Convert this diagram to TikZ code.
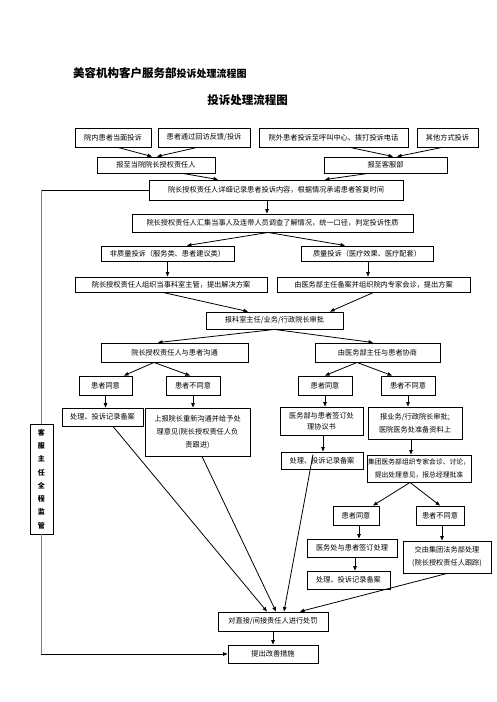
\documentclass[tikz,border=0pt]{standalone}
\usepackage{fontspec}
\setmainfont{Noto Sans CJK SC}
\usetikzlibrary{positioning, arrows.meta}

\begin{document}
\begin{tikzpicture}[x=1pt, y=-1pt,
    box/.style={rectangle, draw, line width=0.9pt, inner sep=1pt,
      align=center, font=\fontsize{7.2}{9}\selectfont},
    tip/.style={-{Triangle[length=4.5pt,width=3.5pt]}, line width=0.8pt},
    trunk/.style={draw=gray, line width=1.6pt}]

    \useasboundingbox (0,0) rectangle (496,702);

    % titles
    \node[anchor=west, inner sep=0pt] (t1) at (73,73)
      {\bfseries\fontsize{11.5}{12}\selectfont 美容机构客户服务部\fontsize{10}{12}\selectfont 投诉处理流程图};
    \node[inner sep=0pt] (t2) at (247.5,100)
      {\bfseries\fontsize{11.5}{12}\selectfont 投诉处理流程图};

    % sources
    \node[box, minimum width=76, minimum height=19] (a) at (113,137.5) {院内患者当面投诉};
    \node[box, minimum width=92, minimum height=19] (b) at (204,137.5) {患者通过回访反馈/投诉};
    \node[box, minimum width=149, minimum height=19] (c) at (333.5,137.5) {院外患者投诉至呼叫中心、拨打投诉电话};
    \node[box, minimum width=61, minimum height=19] (d) at (447.5,137.5) {其他方式投诉};

    \node[box, minimum width=118, minimum height=16] (e) at (156,165) {报至当院院长授权责任人};
    \node[box, minimum width=123, minimum height=16] (f) at (385.5,165) {报至客服部};

    \draw[tip] ([xshift=5]a.south) -- ([xshift=-4]e.north);
    \draw[tip] ([xshift=-7]b.south) -- ([xshift=1]e.north);
    \draw[tip] ([xshift=16.5]c.south) -- ([xshift=7.5]f.north);
    \draw[tip] ([xshift=-5.5]d.south) -- ([xshift=11.5]f.north);

    \node[box, minimum width=254, minimum height=20] (g) at (276,190)
      {院长授权责任人详细记录患者投诉内容，根据情况承诺患者答复时间};
    \draw[tip] ([xshift=27]e.south) -- ([xshift=-58]g.north);
    \draw[tip] ([xshift=-17.5]f.south) -- ([xshift=49]g.north);

    \node[box, minimum width=281, minimum height=18] (h) at (272.5,223)
      {院长授权责任人汇集当事人及连带人员调查了解情况，统一口径，判定投诉性质};
    \draw[tip] ([xshift=-9]g.south) -- ([xshift=-9]g.south |- h.north);

    % nature of complaint
    \node[box, minimum width=133, minimum height=15] (i) at (167.5,253.5) {非质量投诉（服务类、患者建议类）};
    \node[box, minimum width=132, minimum height=15] (j) at (367,253.5) {质量投诉（医疗效果、医疗配套）};
    \draw[tip] ([xshift=-4.5]h.south) -- ([xshift=19.5]i.north);
    \draw[tip] ([xshift=-4.5]h.south) -- ([xshift=-22]j.north);

    \node[box, minimum width=192, minimum height=15] (k) at (171,284.5) {院长授权责任人组织当事科室主管，提出解决方案};
    \node[box, minimum width=193, minimum height=15] (l) at (373.5,284.5) {由医务部主任备案并组织院内专家会诊，提出方案};
    \draw[tip] (i.south) -- (i.south |- k.north);
    \draw[tip] ([xshift=1]j.south) -- ([xshift=1]j.south |- l.north);

    \node[box, minimum width=137, minimum height=17] (m) at (274.5,320.5) {报科室主任/业务/行政院长审批};
    \draw[tip] ([xshift=-8]k.south) -- ([xshift=-26.5]m.north);
    \draw[tip] (l.south) -- ([xshift=55.5]m.north);

    \node[box, minimum width=147, minimum height=19] (n) at (174.5,352.5) {院长授权责任人与患者沟通};
    \node[box, minimum width=125, minimum height=19] (o) at (377.5,352.5) {由医务部主任与患者协商};
    \draw[tip] (m.south) -- ([xshift=-16.5]n.north);
    \draw[tip] (m.south) -- ([xshift=-4.5]o.north);

    % patient answers
    \node[box, minimum width=53, minimum height=19] (p) at (105.5,385.5) {患者同意};
    \node[box, minimum width=54, minimum height=19] (q) at (193,385.5) {患者不同意};
    \node[box, minimum width=54, minimum height=19] (r) at (325,385.5) {患者同意};
    \node[box, minimum width=54, minimum height=19] (s) at (408,385.5) {患者不同意};
    \draw[tip] ([xshift=-20.5]n.south) -- ([xshift=18.5]p.north);
    \draw[tip] ([xshift=-20.5]n.south) -- ([xshift=-3]q.north);
    \draw[tip] ([xshift=-20.5]o.south) -- (r.north);
    \draw[tip] ([xshift=-20.5]o.south) -- ([xshift=-16]s.north);

    \node[box, minimum width=81, minimum height=18] (pt) at (102.5,417) {处理、投诉记录备案};
    \node[box, minimum width=105, minimum height=48,
      font=\fontsize{7.2}{13}\selectfont] (qu) at (197.5,432)
      {上报院长重新沟通并给予处\\理意见(院长授权责任人负\\责跟进)};
    \node[box, minimum width=83, minimum height=28,
      font=\fontsize{7.2}{11}\selectfont] (rv) at (321.5,421)
      {医务部与患者签订处\\理协议书};
    \node[box, minimum width=94, minimum height=32,
      font=\fontsize{7.2}{12.5}\selectfont] (sw) at (415,423)
      {报业务/行政院长审批;\\医院医务处准备资料上};
    \draw[tip] (p.south) -- (p.south |- pt.north);
    \draw[tip] (q.south) -- (q.south |- qu.north);
    \draw[tip] (r.south) -- (r.south |- rv.north);
    \draw[tip] (s.south) -- (s.south |- sw.north);

    \node[box, minimum width=82, minimum height=17] (rx) at (322,460.5) {处理、投诉记录备案};
    \node[box, minimum width=102, minimum height=27,
      font=\fontsize{6.8}{13}\selectfont] (sy) at (419,468.5)
      {集团医务部组织专家会诊、讨论，\\提出处理意见，报总经理批准};
    \draw[tip] ([xshift=1.5]rv.south) -- ([xshift=1.5]rv.south |- rx.north);
    \draw[tip] ([xshift=-4]sw.south) -- ([xshift=-4]sw.south |- sy.north);

    % group level
    \node[box, minimum width=46, minimum height=19] (z) at (356,515.5) {患者同意};
    \node[box, minimum width=48, minimum height=19] (zz) at (440,515.5) {患者不同意};
    \draw[tip] ([xshift=-9]sy.south) -- ([xshift=17]z.north);
    \draw[tip] ([xshift=-9]sy.south) -- (zz.north);

    \node[box, minimum width=90, minimum height=18] (bb) at (352,548) {医务处与患者签订处理};
    \node[box, minimum width=88, minimum height=32,
      font=\fontsize{7.2}{13}\selectfont] (cc) at (447,557)
      {交由集团法务部处理\\(院长授权责任人跟踪)};
    \node[box, minimum width=83, minimum height=18] (dd) at (348.5,580) {处理、投诉记录备案};
    \draw[tip] ([xshift=3]z.south) -- ([xshift=3]z.south |- bb.north);
    \draw[tip] ([xshift=2]zz.south) -- ([xshift=2]zz.south |- cc.north);
    \draw[tip] ([xshift=3]bb.south) -- ([xshift=3]bb.south |- dd.north);

    % penalty and improvement
    \node[box, minimum width=110, minimum height=19] (ee) at (273,621.5) {对直接/间接责任人进行处罚};
    \node[box, minimum width=90, minimum height=18] (ff) at (273,654) {提出改善措施};
    \draw[tip] ([xshift=10.5]pt.south) -- ([xshift=-6]ee.north);
    \draw[tip] ([xshift=4.5]qu.south) -- ([xshift=3]ee.north);
    \draw[tip] ([xshift=-9,yshift=-3]rx.north) -- ([xshift=11]ee.north);
    \draw[tip] (cc.south) -- ([xshift=27]ee.north);
    \draw[tip] (ee.south) -- (ff.north);

    % supervision line
    \node[box, minimum width=23, minimum height=110, text width=8pt,
      font=\bfseries\fontsize{7}{13.3}\selectfont] (sup) at (41.5,479)
      {客\\服\\主\\任\\全\\程\\监\\管};
    \coordinate (top) at (g.west -| sup.north);
    \coordinate (bot) at (sup.south |- ff.west);
    \draw[line width=0.8pt] (g.west) -- ([xshift=-0.8]top);
    \draw[trunk] (top) -- (sup.north);
    \draw[trunk] (sup.south) -- (bot);
    \draw[tip] ([xshift=-0.8]bot) -- (ff.west);
\end{tikzpicture}
\end{document}
